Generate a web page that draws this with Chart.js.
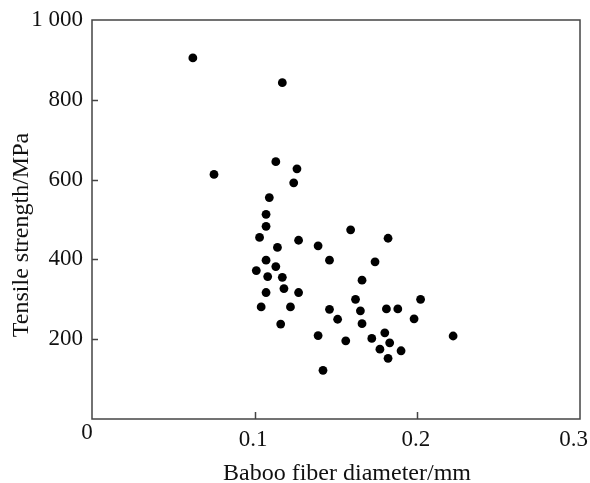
<!DOCTYPE html>
<html>
<head>
<meta charset="utf-8">
<title>Tensile strength vs fiber diameter</title>
<script src="https://cdn.jsdelivr.net/npm/chart.js@4"></script>
<style>
  html, body { margin: 0; padding: 0; background: #fff; }
  canvas { display: block; }
</style>
</head>
<body>
<canvas id="scatter" width="590" height="483"></canvas>
<script>
// ---- Data ----
const diameters = [
  0.062, 0.117, 0.113, 0.126, 0.075, 0.124, 0.109, 0.107, 0.107, 0.103,
  0.127, 0.139, 0.114, 0.107, 0.113, 0.101, 0.108, 0.117, 0.107, 0.118,
  0.127, 0.104, 0.122, 0.116, 0.159, 0.182, 0.146, 0.174, 0.166, 0.162,
  0.202, 0.146, 0.165, 0.181, 0.188, 0.151, 0.198, 0.166, 0.139, 0.180,
  0.222, 0.156, 0.172, 0.183, 0.177, 0.190, 0.182, 0.142
];
const strengths = [
  905, 843, 645, 627, 613, 592, 555, 513, 483, 455,
  448, 434, 430, 398, 382, 372, 357, 355, 317, 327,
  317, 281, 281, 238, 474, 453, 398, 394, 348, 300,
  300, 275, 271, 276, 276, 250, 251, 239, 209, 216,
  208, 196, 202, 191, 175, 171, 152, 122
];

const xTickValues = [0.1, 0.2, 0.3];
const xTickLabels = ['0.1', '0.2', '0.3'];
const yTickValues = [200, 400, 600, 800, 1000];
const yTickLabels = ['200', '400', '600', '800', '1 000'];
const xTitle = 'Baboo fiber diameter/mm';
const yTitle = 'Tensile strength/MPa';

const FONT = '"Liberation Serif", "Times New Roman", serif';
const INK = '#111';
const FRAME = '#444';

// ---- Frame, inward ticks, x labels and titles ----
const framePlugin = {
  id: 'frame',
  afterDraw(chart) {
    const { ctx, chartArea: a, scales: { x, y } } = chart;
    ctx.save();
    ctx.strokeStyle = FRAME;
    ctx.lineWidth = 1.5;
    ctx.strokeRect(a.left, a.top, a.right - a.left, a.bottom - a.top);

    ctx.beginPath();
    yTickValues.forEach(v => {
      if (v >= y.max) return;
      const py = Math.round(y.getPixelForValue(v)) + 0.5;
      ctx.moveTo(a.left, py);
      ctx.lineTo(a.left + 6, py);
    });
    xTickValues.forEach(v => {
      if (v >= x.max) return;
      const px = Math.round(x.getPixelForValue(v)) + 0.5;
      ctx.moveTo(px, a.bottom);
      ctx.lineTo(px, a.bottom - 7);
    });
    ctx.stroke();

    ctx.fillStyle = INK;
    ctx.font = '23px ' + FONT;
    ctx.textAlign = 'center';
    ctx.textBaseline = 'middle';
    xTickValues.forEach((v, i) => {
      const w = ctx.measureText(xTickLabels[i]).width;
      let px = x.getPixelForValue(v) - 1.5;
      px = Math.min(px, chart.width - 2 - w / 2);
      ctx.fillText(xTickLabels[i], px, a.bottom + 21);
    });
    // shared origin label
    ctx.fillText('0', a.left - 5, a.bottom + 14);

    ctx.font = '24px ' + FONT;
    ctx.textBaseline = 'alphabetic';
    ctx.fillText(xTitle, 347, 480);

    ctx.translate(28, 235);
    ctx.rotate(-Math.PI / 2);
    ctx.fillText(yTitle, 0, 0);
    ctx.restore();
  }
};

new Chart(document.getElementById('scatter'), {
  type: 'scatter',
  data: {
    datasets: [{
      data: diameters.map((d, i) => ({ x: d, y: strengths[i] })),
      backgroundColor: '#000',
      borderWidth: 0,
      pointRadius: 4.4,
      pointHoverRadius: 4.4
    }]
  },
  options: {
    responsive: false,
    animation: false,
    layout: { padding: { top: 20, right: 10, left: 0, bottom: 0 } },
    plugins: { legend: { display: false }, tooltip: { enabled: false } },
    scales: {
      x: {
        type: 'linear',
        min: 0,
        max: 0.3,
        grid: { display: false, drawTicks: false },
        border: { display: false },
        ticks: { display: false },
        afterFit(scale) { scale.height = 64; scale.paddingLeft = 0; scale.paddingRight = 0; }
      },
      y: {
        type: 'linear',
        min: 0,
        max: 1000,
        grid: { display: false, drawTicks: false },
        border: { display: false },
        afterBuildTicks(scale) { scale.ticks = yTickValues.map(v => ({ value: v })); },
        ticks: {
          padding: 9,
          color: INK,
          font: { family: FONT, size: 23 },
          callback: v => yTickLabels[yTickValues.indexOf(v)]
        },
        afterFit(scale) { scale.width = 92; scale.paddingTop = 0; scale.paddingBottom = 0; }
      }
    }
  },
  plugins: [framePlugin]
});
</script>
</body>
</html>
